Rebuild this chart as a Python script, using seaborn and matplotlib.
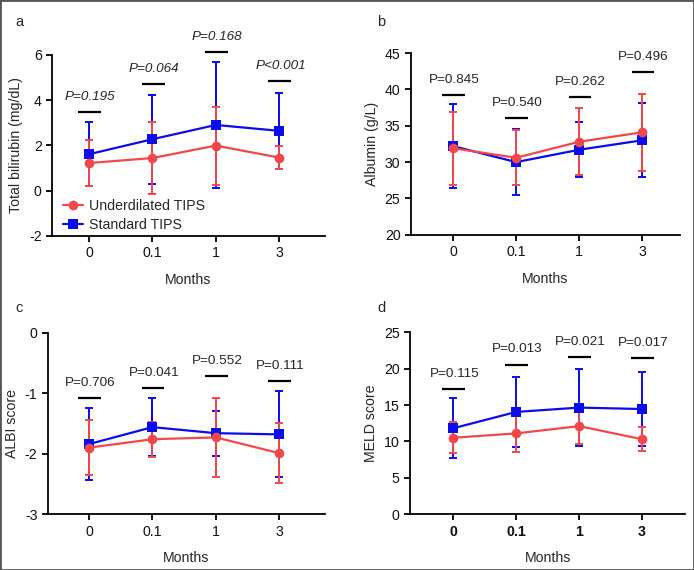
import numpy as np
import pandas as pd
import matplotlib
matplotlib.use("Agg")
import matplotlib.pyplot as plt
from matplotlib.patches import Rectangle
from matplotlib.lines import Line2D
import seaborn as sns

sns.set_style("ticks")
plt.rcParams['font.family'] = ['Liberation Sans', 'DejaVu Sans']

# data (mean +- SD)
months = ['0', '0.1', '1', '3']
groups = ['Underdilated TIPS', 'Standard TIPS']

bili_under = [1.22, 1.44, 1.99, 1.46]
bili_under_sd = [1.03, 1.60, 1.72, 0.52]
bili_std = [1.61, 2.27, 2.90, 2.64]
bili_std_sd = [1.40, 1.96, 2.80, 1.69]
bili_p = ['P=0.195', 'P=0.064', 'P=0.168', 'P<0.001']
bili_bar = [3.45, 4.70, 6.10, 4.82]

alb_under = [31.9, 30.6, 32.8, 34.1]
alb_under_sd = [5.05, 3.8, 4.6, 5.3]
alb_std = [32.2, 30.0, 31.7, 33.0]
alb_std_sd = [5.8, 4.5, 3.8, 5.1]
alb_p = ['P=0.845', 'P=0.540', 'P=0.262', 'P=0.496']
alb_bar = [39.2, 36.0, 38.9, 42.4]

albi_under = [-1.90, -1.76, -1.73, -1.99]
albi_under_sd = [0.45, 0.29, 0.66, 0.50]
albi_std = [-1.84, -1.56, -1.66, -1.68]
albi_std_sd = [0.60, 0.48, 0.37, 0.71]
albi_p = ['P=0.706', 'P=0.041', 'P=0.552', 'P=0.111']
albi_bar = [-1.08, -0.92, -0.72, -0.80]

meld_under = [10.5, 11.1, 12.1, 10.3]
meld_under_sd = [2.15, 2.5, 2.4, 1.65]
meld_std = [11.8, 14.05, 14.65, 14.45]
meld_std_sd = [4.1, 4.8, 5.3, 5.05]
meld_p = ['P=0.115', 'P=0.013', 'P=0.021', 'P=0.017']
meld_bar = [17.15, 20.57, 21.62, 21.40]

RED = '#F2474B'
BLUE = '#0B0BF0'
colors = {'Underdilated TIPS': RED, 'Standard TIPS': BLUE}
marks = {'Underdilated TIPS': 'o', 'Standard TIPS': 's'}

fig = plt.figure(figsize=(6.94, 5.70), dpi=100)

panels = [
    # letter, rect, ylabel, under, under_sd, std, std_sd, pvals, bars, ylim, yticks, xlim, italic, bold ticks
    ('a', [0.075, 0.586, 0.393, 0.318], 'Total bilirubin (mg/dL)', bili_under, bili_under_sd,
     bili_std, bili_std_sd, bili_p, bili_bar, (-2, 6), [-2, 0, 2, 4, 6], (-0.585, 3.72), True, False),
    ('b', [0.592, 0.588, 0.388, 0.319], 'Albumin (g/L)', alb_under, alb_under_sd,
     alb_std, alb_std_sd, alb_p, alb_bar, (20, 45), [20, 25, 30, 35, 40, 45], (-0.67, 3.6), False, False),
    ('c', [0.069, 0.098, 0.399, 0.318], 'ALBI score', albi_under, albi_under_sd,
     albi_std, albi_std_sd, albi_p, albi_bar, (-3, 0), [-3, -2, -1, 0], (-0.65, 3.72), False, False),
    ('d', [0.591, 0.098, 0.396, 0.319], 'MELD score', meld_under, meld_under_sd,
     meld_std, meld_std_sd, meld_p, meld_bar, (0, 25), [0, 5, 10, 15, 20, 25], (-0.68, 3.68), False, True),
]

pos = np.arange(len(months))

for letter, rect, ylab, under, under_sd, std, std_sd, pvals, bars, ylim, yticks, xlim, ital, boldt in panels:
    ax = fig.add_axes(rect)
    df = pd.DataFrame({
        'pos': np.concatenate([pos, pos]),
        'value': under + std,
        'sd': under_sd + std_sd,
        'group': [groups[0]] * 4 + [groups[1]] * 4,
    })
    # error bars first (blue then red), then lines with markers on top
    for g, z in [(groups[1], 2.1), (groups[0], 2.2)]:
        sub = df[df['group'] == g]
        ax.errorbar(sub['pos'], sub['value'], yerr=sub['sd'], fmt='none',
                    ecolor=colors[g], elinewidth=1.4, capsize=3.2, capthick=1.4, zorder=z)
    for g, z in [(groups[0], 4), (groups[1], 3)]:
        sub = df[df['group'] == g]
        sns.lineplot(data=sub, x='pos', y='value', color=colors[g], marker=marks[g],
                     markersize=7 if g == groups[0] else 6.5, markeredgewidth=0,
                     linewidth=1.6, label=g, zorder=z, ax=ax, legend=False)

    # significance lines and p-values
    for i in range(len(months)):
        ax.plot([pos[i] - 0.17, pos[i] + 0.19], [bars[i], bars[i]], color='black', lw=1.6,
                solid_capstyle='butt', clip_on=False)
        ax.annotate(pvals[i], (pos[i] + 0.02, bars[i]), xytext=(0, 11), textcoords='offset points',
                    ha='center', va='center', fontsize=9.7, style='italic' if ital else 'normal',
                    annotation_clip=False)

    ax.set_xlim(*xlim)
    ax.set_ylim(*ylim)
    ax.set_yticks(yticks)
    ax.set_yticklabels([str(t) for t in yticks])
    ax.set_xticks(pos)
    ax.set_xticklabels(months, fontweight='bold' if boldt else 'normal')
    ax.tick_params(axis='both', labelsize=10.2, width=1.3, length=4, color='black', labelcolor='#111111')
    ax.set_xlabel('Months', fontsize=10.2, labelpad=9)
    ax.set_ylabel(ylab, fontsize=10.2, labelpad=4)
    for s in ['left', 'bottom']:
        ax.spines[s].set_linewidth(1.3)
        ax.spines[s].set_color('black')
    sns.despine(ax=ax)

    # panel letter
    lx = 15 / 694 if letter in 'ac' else 377 / 694
    ly = 1 - 22 / 570 if letter in 'ab' else 1 - 308 / 570
    fig.text(lx, ly, letter, fontsize=10.5, ha='left', va='center')

    if letter == 'a':
        h = [Line2D([], [], color=RED, marker='o', markersize=7, markeredgewidth=0, lw=1.6),
             Line2D([], [], color=BLUE, marker='s', markersize=6.5, markeredgewidth=0, lw=1.6)]
        ax.legend(h, groups, loc='lower left', bbox_to_anchor=(0.02, -0.01), frameon=False,
                  fontsize=10.2, handlelength=1.4, handletextpad=0.45, labelspacing=0.35,
                  borderaxespad=0.0)

# thin grey frame around the whole figure
fig.patches.append(Rectangle((0, 0), 1, 1, transform=fig.transFigure, fill=False,
                             edgecolor='#555555', lw=2.0))

fig.savefig('out.png', dpi=100)
